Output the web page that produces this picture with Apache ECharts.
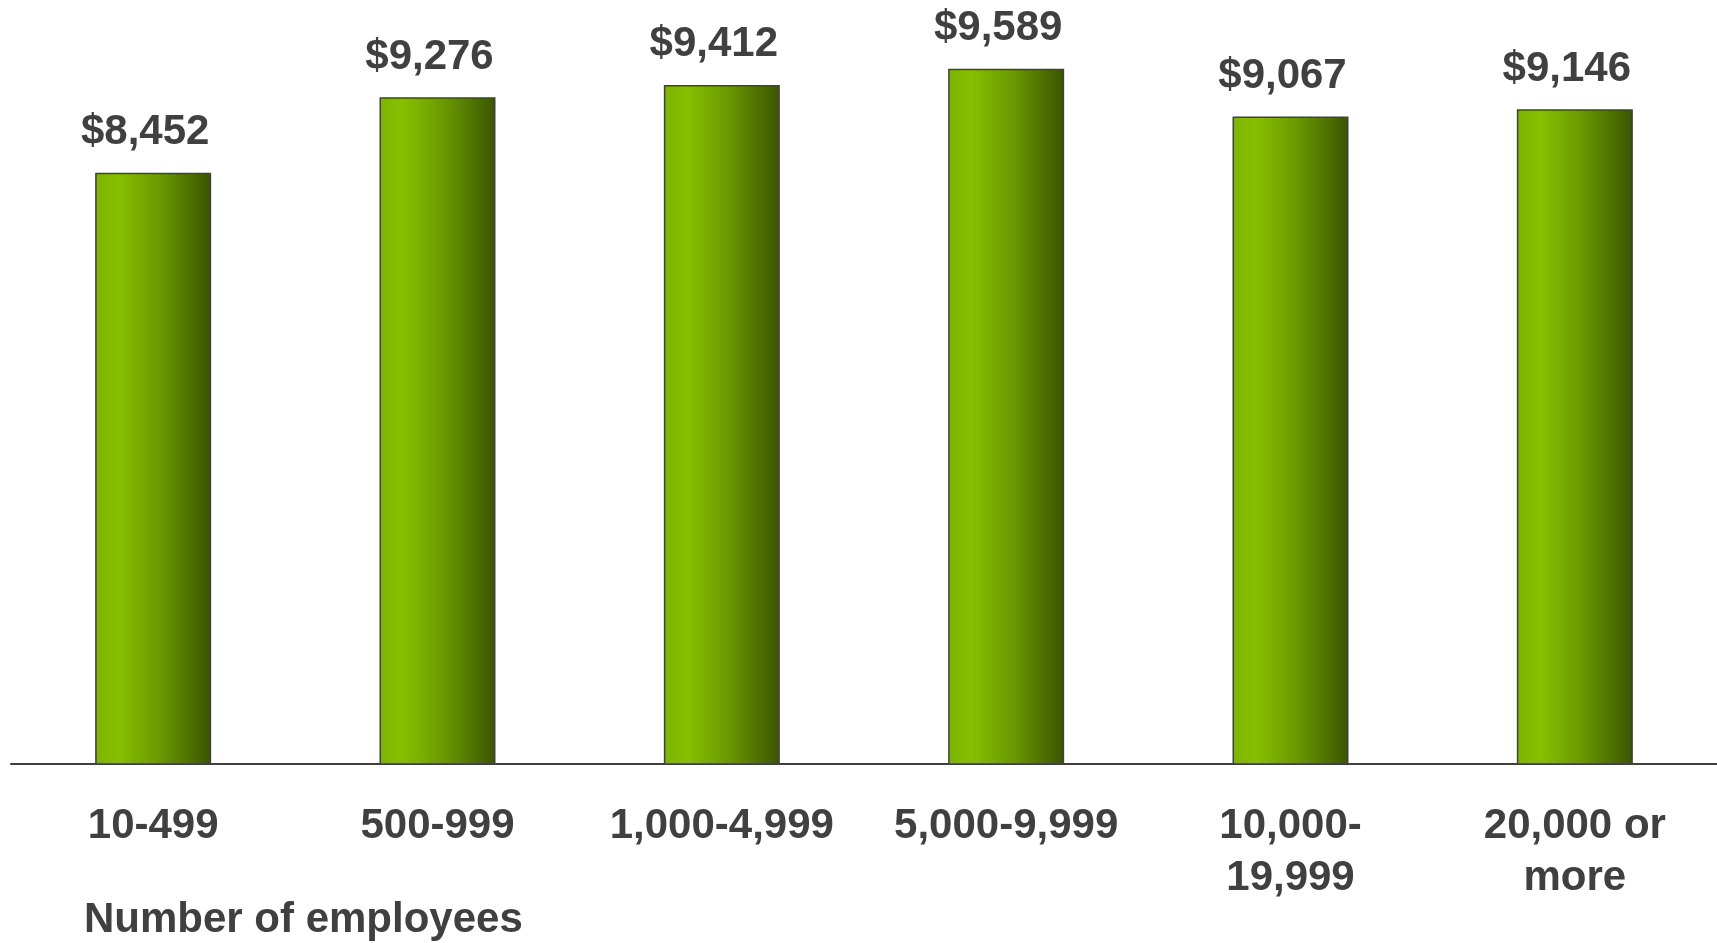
<!DOCTYPE html>
<html>
<head>
<meta charset="utf-8">
<script src="https://cdn.jsdelivr.net/npm/echarts@6/dist/echarts.min.js"></script>
<style>
  html, body { margin: 0; padding: 0; background: #ffffff; }
  #chart { width: 1717px; height: 943px; }
</style>
</head>
<body>
<div id="chart"></div>
<script>
// Company size bands (employees) and average cost per band
const categories = ['10-499', '500-999', '1,000-4,999', '5,000-9,999', '10,000-\n19,999', '20,000 or\nmore'];
const values = [8452, 9276, 9412, 9589, 9067, 9146];
const axisTitle = 'Number of employees';

const TEXT = '#404040';
const FONT = '"Liberation Sans", Arial, Helvetica, sans-serif';

const chart = echarts.init(document.getElementById('chart'));

const barFill = new echarts.graphic.LinearGradient(0, 0, 1, 0, [
  { offset: 0, color: '#7cb400' },
  { offset: 0.2, color: '#86c000' },
  { offset: 0.55, color: '#6a9a00' },
  { offset: 1, color: '#3a5500' }
]);

chart.setOption({
  animation: false,
  backgroundColor: '#ffffff',
  title: {
    text: axisTitle,
    left: 84,
    top: 899,
    padding: 0,
    textStyle: { fontFamily: FONT, fontSize: 42, fontWeight: 'bold', color: TEXT }
  },
  grid: { left: 11, right: 0, top: 31, bottom: 179, containLabel: false },
  xAxis: {
    type: 'category',
    data: categories,
    axisLine: { show: true, lineStyle: { color: '#404040', width: 2 } },
    axisTick: { show: false },
    axisLabel: {
      interval: 0,
      margin: 36,
      fontFamily: FONT,
      fontSize: 42,
      fontWeight: 'bold',
      color: TEXT,
      lineHeight: 52
    }
  },
  yAxis: {
    type: 'value',
    min: 2000,
    max: 10000,
    show: false,
    splitLine: { show: false }
  },
  series: [{
    type: 'bar',
    data: values,
    barWidth: 116,
    itemStyle: { color: barFill, borderColor: '#404040', borderWidth: 1.5 },
    label: {
      show: true,
      position: 'top',
      distance: 19,
      offset: [-8, 0],
      fontFamily: FONT,
      fontSize: 42,
      fontWeight: 'bold',
      color: TEXT,
      formatter: p => '$' + p.value.toLocaleString('en-US')
    }
  }]
});
</script>
</body>
</html>
